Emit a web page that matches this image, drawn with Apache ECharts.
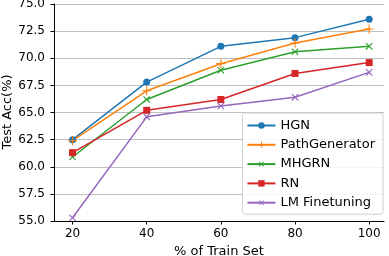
<!DOCTYPE html>
<html><head><meta charset="utf-8">
<script src="https://cdn.jsdelivr.net/npm/echarts@6/dist/echarts.min.js"></script>
<style>html,body{margin:0;padding:0;background:#fff}#c{width:389px;height:256px}</style>
</head><body><div id="c"></div>
<script>
const trainSet = [20, 40, 60, 80, 100];
const hgn = [62.5, 67.8, 71.1, 71.9, 73.6];
const pathGenerator = [62.4, 67.0, 69.5, 71.4, 72.7];
const mhgrn = [60.9, 66.2, 68.9, 70.6, 71.1];
const rn = [61.3, 65.2, 66.2, 68.6, 69.6];
const lmFinetuning = [55.3, 64.6, 65.6, 66.4, 68.7];
const yTicks = [55, 57.5, 60, 62.5, 65, 67.5, 70, 72.5, 75];

const plus = 'path://M-1,-8H1V-1H8V1H1V8H-1V1H-8V-1H-1Z';
const font = 'DejaVu Sans';
function mk(name, vals, color, symbol, size, rot) {
  return {
    name, type: 'line', data: trainSet.map((x, i) => [x, vals[i]]),
    symbol, symbolSize: size, symbolRotate: rot || 0,
    lineStyle: {color, width: 1.5}, itemStyle: {color},
    emphasis: {disabled: true}, animation: false
  };
}
const chart = echarts.init(document.getElementById('c'), null, {renderer: 'canvas'});
chart.setOption({
  animation: false,
  textStyle: {fontFamily: font},
  grid: {left: 54, right: 5, top: 4, bottom: 35, containLabel: false, outerBoundsMode: 'none'},
  graphic: [{
    type: 'text', x: 8, y: 112, rotation: Math.PI / 2,
    style: {text: 'Test Acc(%)', font: '13px "DejaVu Sans"', fill: '#000', align: 'center', verticalAlign: 'middle'}
  }],
  xAxis: {
    type: 'value', min: 15, max: 104,
    name: '% of Train Set', nameLocation: 'middle', nameGap: 21,
    nameTextStyle: {fontSize: 13, color: '#000', fontFamily: font},
    axisLine: {show: true, lineStyle: {color: '#000', width: 1}},
    axisTick: {show: true, length: 3.5, lineStyle: {color: '#000'}, customValues: trainSet},
    axisLabel: {fontSize: 12, color: '#000', margin: 7, customValues: trainSet, fontFamily: font},
    splitLine: {show: false}
  },
  yAxis: {
    type: 'value', min: 55, max: 75, interval: 2.5,
    axisLine: {show: true, lineStyle: {color: '#000', width: 1}},
    axisTick: {show: true, length: 3.5, lineStyle: {color: '#000'}},
    axisLabel: {fontSize: 12, color: '#000', margin: 9, formatter: v => v.toFixed(1), fontFamily: font},
    splitLine: {show: true, lineStyle: {color: '#b0b0b0', width: 0.8}}
  },
  legend: {
    right: 6, top: 113, orient: 'vertical',
    itemWidth: 28, itemHeight: 8, itemGap: 6.3,
    backgroundColor: 'rgba(255,255,255,0.85)', borderColor: '#d0d0d0', borderWidth: 1, borderRadius: 3,
    padding: [6, 8, 5, 4],
    textStyle: {fontSize: 13, color: '#000', fontFamily: font},
    data: ['HGN', 'PathGenerator', 'MHGRN', 'RN', 'LM Finetuning']
  },
  series: [
    mk('HGN', hgn, '#1f77b4', 'circle', 7),
    mk('PathGenerator', pathGenerator, '#ff7f0e', plus, 9),
    mk('MHGRN', mhgrn, '#2ca02c', plus, 9, 45),
    mk('RN', rn, '#d62728', 'rect', 7),
    mk('LM Finetuning', lmFinetuning, '#9467bd', plus, 9, 45)
  ]
});
</script></body></html>
